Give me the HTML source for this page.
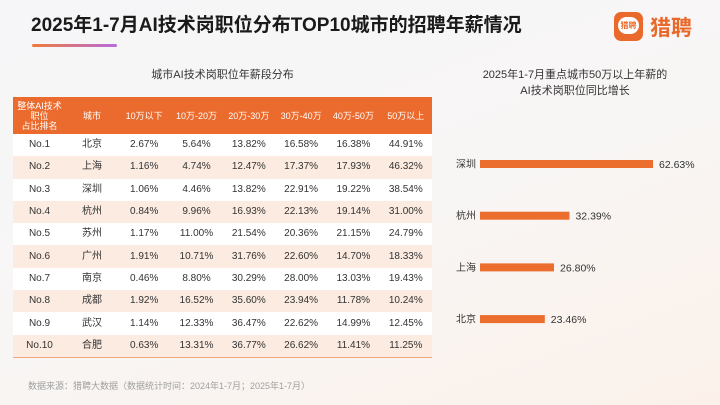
<!DOCTYPE html>
<html><head><meta charset="utf-8">
<style>
body{margin:0;width:720px;height:405px;overflow:hidden;font-family:"Liberation Sans","Noto Sans CJK SC",sans-serif;}
#bg{position:absolute;left:0;top:0;width:720px;height:405px;background:linear-gradient(160deg,#f6f6f8 0%,#f8f6f5 50%,#fbf1ea 100%);}
.abs{position:absolute;}
table{border-collapse:collapse;table-layout:fixed;}
td,th{padding:0;text-align:center;font-size:10px;color:#333;line-height:12px;}
th{color:#fff;font-weight:normal;font-size:9px;line-height:10px;}
tr.r{height:22.3px;}
tr.r:nth-child(even) td{background:#fbebe0;}
tr.r:nth-child(odd) td{background:#fff;}
</style></head><body>
<div id="bg"></div>
<div class="abs" style="left:31px;top:10px;font-size:19px;font-weight:bold;color:#1a1a1a;">2025年1-7月AI技术岗职位分布TOP10城市的招聘年薪情况</div>
<div class="abs" style="left:32px;top:44px;width:85px;height:3px;background:linear-gradient(90deg,#f07a3a,#b66be0);border-radius:2px;"></div>
<div class="abs" style="left:614px;top:12px;width:29px;height:29px;background:#ea6a2b;border-radius:7px;"><div style="position:absolute;left:4px;top:5px;width:21px;height:17px;background:#fff;border-radius:9px;font-size:8px;color:#ea6a2b;text-align:center;line-height:17px;font-weight:bold;">猎聘</div></div>
<div class="abs" style="left:650px;top:12px;font-size:21px;font-weight:bold;color:#e8692b;">猎聘</div>
<div class="abs" style="left:13px;width:419px;top:66px;text-align:center;font-size:11px;color:#333;">城市AI技术岗职位年薪段分布</div>
<table class="abs" style="left:13px;top:97px;width:419px;">
<colgroup><col style="width:53px"><col style="width:52px"><col span="6" style="width:52.3px"></colgroup>
<tr style="height:37px;background:#ea6b2d;"><th>整体AI技术<br>职位<br>占比排名</th><th>城市</th><th>10万以下</th><th>10万-20万</th><th>20万-30万</th><th>30万-40万</th><th>40万-50万</th><th>50万以上</th></tr>
<tbody id="tb"></tbody>
</table>
<div class="abs" style="left:13px;top:357px;width:419px;height:1px;background:#f0a57a;"></div>
<div class="abs" style="left:440px;width:270px;top:67px;text-align:center;font-size:11px;line-height:16px;color:#333;">2025年1-7月重点城市50万以上年薪的<br>AI技术岗职位同比增长</div>
<svg class="abs" style="left:0;top:0" width="720" height="405" id="chart"></svg>
<div class="abs" style="left:28px;top:379px;font-size:9px;color:#a0a0a0;">数据来源：猎聘大数据（数据统计时间：2024年1-7月；2025年1-7月）</div>
<script>
const ranks=["No.1","No.2","No.3","No.4","No.5","No.6","No.7","No.8","No.9","No.10"];
const cities=["北京","上海","深圳","杭州","苏州","广州","南京","成都","武汉","合肥"];
const below10=["2.67%","1.16%","1.06%","0.84%","1.17%","1.91%","0.46%","1.92%","1.14%","0.63%"];
const r10_20=["5.64%","4.74%","4.46%","9.96%","11.00%","10.71%","8.80%","16.52%","12.33%","13.31%"];
const r20_30=["13.82%","12.47%","13.82%","16.93%","21.54%","31.76%","30.29%","35.60%","36.47%","36.77%"];
const r30_40=["16.58%","17.37%","22.91%","22.13%","20.36%","22.60%","28.00%","23.94%","22.62%","26.62%"];
const r40_50=["16.38%","17.93%","19.22%","19.14%","21.15%","14.70%","13.03%","11.78%","14.99%","11.41%"];
const above50=["44.91%","46.32%","38.54%","31.00%","24.79%","18.33%","19.43%","10.24%","12.45%","11.25%"];
const tb=document.getElementById('tb');
for(let i=0;i<ranks.length;i++){
 const tr=document.createElement('tr');tr.className='r';
 
 
 [ranks[i],cities[i],below10[i],r10_20[i],r20_30[i],r30_40[i],r40_50[i],above50[i]].forEach(v=>{const td=document.createElement('td');td.textContent=v;tr.appendChild(td);});
 tb.appendChild(tr);
}
const barCities=["深圳","杭州","上海","北京"];
const growth=[62.63,32.39,26.80,23.46];
const svg=document.getElementById('chart');const NS='http://www.w3.org/2000/svg';
const x0=480,scale=173/62.63;
const yPos=i=>164+i*51.7;
for(let i=0;i<growth.length;i++){
 const y=yPos(i);
 const l=document.createElementNS(NS,'text');
 l.setAttribute('x',456);l.setAttribute('y',y+3.5);l.setAttribute('font-size','10');l.setAttribute('fill','#333');
 l.textContent=barCities[i];
 
 
 svg.appendChild(l);
 const r=document.createElementNS(NS,'rect');
 r.setAttribute('x',x0);r.setAttribute('y',y-4);r.setAttribute('width',growth[i]*scale);r.setAttribute('height',8);r.setAttribute('fill','#ec6e2e');
 
 
 svg.appendChild(r);
 const v=document.createElementNS(NS,'text');
 v.setAttribute('x',x0+growth[i]*scale+6);v.setAttribute('y',y+4);v.setAttribute('font-size','10.5');v.setAttribute('fill','#333');
 v.textContent=growth[i].toFixed(2)+'%';
 
 
 svg.appendChild(v);
}
</script>
</body></html>
